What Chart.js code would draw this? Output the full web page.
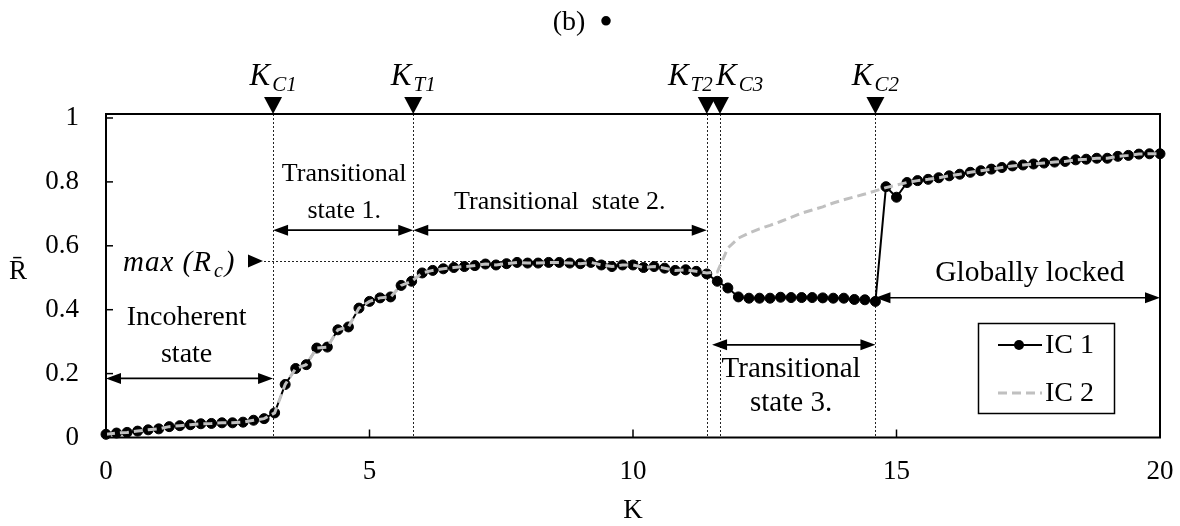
<!DOCTYPE html>
<html>
<head>
<meta charset="utf-8">
<script src="https://cdn.jsdelivr.net/npm/chart.js@4.4.0/dist/chart.umd.min.js"></script>
<style>
  html, body { margin: 0; padding: 0; background: #fff; }
  #wrap { width: 1180px; height: 526px; position: relative; }
</style>
</head>
<body>
<div id="wrap"><canvas id="c" width="1180" height="526"></canvas></div>
<script>
// Coupling strength K (x values)
const K = [
  0.0, 0.2, 0.4, 0.6, 0.8, 1.0, 1.2, 1.4, 1.6, 1.8,
  2.0, 2.2, 2.4, 2.6, 2.8, 3.0, 3.2, 3.4, 3.6, 3.8,
  4.0, 4.2, 4.4, 4.6, 4.8, 5.0, 5.2, 5.4, 5.6, 5.8,
  6.0, 6.2, 6.4, 6.6, 6.8, 7.0, 7.2, 7.4, 7.6, 7.8,
  8.0, 8.2, 8.4, 8.6, 8.8, 9.0, 9.2, 9.4, 9.6, 9.8,
  10.0, 10.2, 10.4, 10.6, 10.8, 11.0, 11.2, 11.4, 11.6, 11.8,
  12.0, 12.2, 12.4, 12.6, 12.8, 13.0, 13.2, 13.4, 13.6, 13.8,
  14.0, 14.2, 14.4, 14.6, 14.8, 15.0, 15.2, 15.4, 15.6, 15.8,
  16.0, 16.2, 16.4, 16.6, 16.8, 17.0, 17.2, 17.4, 17.6, 17.8,
  18.0, 18.2, 18.4, 18.6, 18.8, 19.0, 19.2, 19.4, 19.6, 19.8,
  20.0
];

// Mean order parameter, initial condition 1
const R_IC1 = [
  0.010, 0.014, 0.016, 0.020, 0.024, 0.027, 0.034, 0.037, 0.040, 0.043,
  0.044, 0.046, 0.046, 0.048, 0.054, 0.059, 0.077, 0.166, 0.216, 0.228,
  0.280, 0.283, 0.337, 0.346, 0.405, 0.426, 0.437, 0.440, 0.476, 0.489,
  0.515, 0.523, 0.528, 0.532, 0.535, 0.538, 0.543, 0.540, 0.544, 0.548,
  0.546, 0.546, 0.548, 0.548, 0.546, 0.544, 0.548, 0.540, 0.535, 0.540,
  0.540, 0.532, 0.535, 0.530, 0.523, 0.525, 0.520, 0.512, 0.489, 0.468,
  0.440, 0.436, 0.436, 0.436, 0.439, 0.438, 0.438, 0.438, 0.437, 0.436,
  0.436, 0.432, 0.431, 0.426, 0.785, 0.752, 0.798, 0.804, 0.808, 0.813,
  0.819, 0.824, 0.830, 0.835, 0.840, 0.845, 0.850, 0.853, 0.856, 0.859,
  0.862, 0.864, 0.869, 0.871, 0.874, 0.874, 0.880, 0.883, 0.887, 0.888,
  0.888
];

// Mean order parameter, initial condition 2
const R_IC2 = [
  0.010, 0.014, 0.016, 0.020, 0.024, 0.027, 0.034, 0.037, 0.040, 0.043,
  0.044, 0.046, 0.046, 0.048, 0.054, 0.059, 0.077, 0.166, 0.216, 0.228,
  0.280, 0.283, 0.337, 0.346, 0.405, 0.426, 0.437, 0.440, 0.476, 0.489,
  0.515, 0.523, 0.528, 0.532, 0.535, 0.538, 0.543, 0.540, 0.544, 0.548,
  0.546, 0.546, 0.548, 0.548, 0.546, 0.544, 0.548, 0.540, 0.535, 0.540,
  0.540, 0.532, 0.535, 0.530, 0.523, 0.525, 0.520, 0.515, 0.518, 0.593,
  0.624, 0.640, 0.653, 0.664, 0.676, 0.689, 0.702, 0.712, 0.722, 0.734,
  0.744, 0.753, 0.762, 0.772, 0.782, 0.790, 0.798, 0.804, 0.808, 0.813,
  0.819, 0.824, 0.830, 0.835, 0.840, 0.845, 0.850, 0.853, 0.856, 0.859,
  0.862, 0.864, 0.869, 0.871, 0.874, 0.874, 0.880, 0.883, 0.887, 0.888,
  0.888
];

const xTicks = [0, 5, 10, 15, 20];
const yTicks = [0, 0.2, 0.4, 0.6, 0.8, 1];

// Critical / transition coupling values marked along the top
const markerNames = ['C1', 'T1', 'T2', 'C3', 'C2'];
const markerK = [3.17, 5.83, 11.4, 11.65, 14.6];
const maxRc = 0.5525;

const SERIF = '"Liberation Serif", "Times New Roman", serif';

function line(ctx, x1, y1, x2, y2) {
  ctx.beginPath(); ctx.moveTo(x1, y1); ctx.lineTo(x2, y2); ctx.stroke();
}

function tri(ctx, pts) {
  ctx.beginPath(); ctx.moveTo(pts[0], pts[1]); ctx.lineTo(pts[2], pts[3]); ctx.lineTo(pts[4], pts[5]);
  ctx.closePath(); ctx.fill();
}

// Double-headed arrow between two x pixels at height y
function dblArrow(ctx, x1, x2, y) {
  const L = 15, H = 5.5;
  ctx.lineWidth = 1.6;
  line(ctx, x1 + L - 2, y, x2 - L + 2, y);
  tri(ctx, [x1, y, x1 + L, y - H, x1 + L, y + H]);
  tri(ctx, [x2, y, x2 - L, y - H, x2 - L, y + H]);
}

// Italic symbol with a lowered subscript
function subText(ctx, main, sub, x, y, align, size, subSize, drop) {
  ctx.font = 'italic ' + size + 'px ' + SERIF;
  const wm = ctx.measureText(main).width;
  ctx.font = 'italic ' + subSize + 'px ' + SERIF;
  const ws = ctx.measureText(sub).width;
  const tot = wm + ws + 2;
  let sx = align === 'center' ? x - tot / 2 : align === 'right' ? x - tot : x;
  ctx.textAlign = 'left'; ctx.textBaseline = 'alphabetic';
  ctx.font = 'italic ' + size + 'px ' + SERIF;
  ctx.fillText(main, sx, y);
  ctx.font = 'italic ' + subSize + 'px ' + SERIF;
  ctx.fillText(sub, sx + wm + 2, y + drop);
  return sx + tot + 1;
}

const decor = {
  id: 'decor',
  beforeDatasetsDraw(chart) {
    const { ctx, chartArea: a, scales: { x, y } } = chart;
    ctx.save();
    ctx.strokeStyle = '#222';
    ctx.lineWidth = 1;
    ctx.setLineDash([2, 2]);
    markerK.forEach(k => {
      const px = Math.round(x.getPixelForValue(k)) + 0.5;
      line(ctx, px, a.top, px, a.bottom);
    });
    const py = Math.round(y.getPixelForValue(maxRc)) + 0.5;
    line(ctx, 264, py, x.getPixelForValue(markerK[2]), py);
    ctx.restore();
  },
  afterDraw(chart) {
    const { ctx, chartArea: a, scales: { x, y } } = chart;
    ctx.save();
    ctx.fillStyle = '#000';
    ctx.strokeStyle = '#000';

    // plot frame
    ctx.lineWidth = 2;
    ctx.strokeRect(a.left, a.top, a.right - a.left, a.bottom - a.top);

    // inward tick marks
    ctx.lineWidth = 1.5;
    yTicks.forEach(v => {
      if (v === 0) return;
      const py = y.getPixelForValue(v);
      line(ctx, a.left, py, a.left + 7, py);
    });
    xTicks.forEach(v => {
      if (v === 0 || v === 20) return;
      const px = x.getPixelForValue(v);
      line(ctx, px, a.bottom, px, a.bottom - 8);
    });

    // title
    ctx.textAlign = 'center'; ctx.textBaseline = 'middle';
    ctx.font = '28px ' + SERIF;
    ctx.fillText('(b)', 569, 23);
    ctx.font = '40px ' + SERIF;
    ctx.fillText('\u2022', 606, 24);

    // y-axis symbol
    ctx.font = '27px ' + SERIF;
    ctx.fillText('R\u0304', 18, 272);

    // markers along the top edge
    const aligns = ['center', 'center', 'right', 'left', 'center'];
    const shifts = [0, 0, 6, -4, 0];
    markerK.forEach((k, i) => {
      const px = x.getPixelForValue(k);
      tri(ctx, [px, a.top, px - 9, a.top - 17, px + 9, a.top - 17]);
      subText(ctx, 'K', markerNames[i], px + shifts[i], 85, aligns[i], 31, 21, 6);
    });

    // max(R_c) marker
    const py = y.getPixelForValue(maxRc);
    ctx.letterSpacing = '1px';
    let ex = subText(ctx, 'max (R', 'c', 123, 271, 'left', 29, 20, 6);
    ctx.font = 'italic 29px ' + SERIF;
    ctx.fillText(')', ex, 271);
    ctx.letterSpacing = '0px';
    tri(ctx, [263, py, 248, py - 6.5, 248, py + 6.5]);

    // region arrows
    const arrows = [
      [0, markerK[0], 0.185],
      [markerK[0], markerK[1], 0.649],
      [markerK[1], markerK[2], 0.649],
      [11.5, markerK[4], 0.29],
      [markerK[4], 20, 0.4375]
    ];
    arrows.forEach(([k1, k2, r]) => {
      dblArrow(ctx, x.getPixelForValue(k1), x.getPixelForValue(k2), y.getPixelForValue(r));
    });

    // region labels
    const labels = [
      [1.53, ['Incoherent', 'state'], [0.374, 0.258], 28],
      [4.52, ['Transitional', 'state 1.'], [0.825, 0.707], 26],
      [8.61, ['Transitional  state 2.'], [0.738], 26],
      [13.0, ['Transitional', 'state 3.'], [0.214, 0.108], 29],
      [17.53, ['Globally locked'], [0.515], 29.5]
    ];
    ctx.textAlign = 'center'; ctx.textBaseline = 'middle';
    labels.forEach(([k, lines, rs, fs]) => {
      ctx.font = fs + 'px ' + SERIF;
      lines.forEach((t, j) => ctx.fillText(t, x.getPixelForValue(k), y.getPixelForValue(rs[j])));
    });

    // legend
    ctx.fillStyle = '#fff';
    ctx.fillRect(978, 323, 137, 91);
    ctx.lineWidth = 1.5;
    ctx.strokeStyle = '#000';
    ctx.strokeRect(978.5, 323.5, 136, 90);
    ctx.lineWidth = 2;
    line(ctx, 998, 345, 1042, 345);
    ctx.fillStyle = '#000';
    ctx.beginPath(); ctx.arc(1019, 345, 5, 0, Math.PI * 2); ctx.fill();
    ctx.strokeStyle = '#c0c0c0'; ctx.lineWidth = 3; ctx.setLineDash([9, 5]);
    line(ctx, 998, 393, 1042, 393);
    ctx.setLineDash([]);
    ctx.fillStyle = '#000';
    ctx.font = '28px ' + SERIF;
    ctx.textAlign = 'left'; ctx.textBaseline = 'middle';
    ctx.fillText('IC 1', 1045, 346);
    ctx.fillText('IC 2', 1045, 394);
    ctx.restore();
  }
};

new Chart(document.getElementById('c'), {
  type: 'line',
  data: {
    datasets: [
      {
        label: 'IC 1',
        data: K.map((k, i) => ({ x: k, y: R_IC1[i] })),
        borderColor: '#000',
        backgroundColor: '#000',
        borderWidth: 2,
        pointRadius: 5,
        pointBackgroundColor: '#000',
        pointBorderColor: '#000',
        pointBorderWidth: 1,
        tension: 0,
        clip: false,
        order: 1
      },
      {
        label: 'IC 2',
        data: K.map((k, i) => ({ x: k, y: R_IC2[i] })),
        borderColor: '#c0c0c0',
        borderWidth: 3,
        borderDash: [9, 5],
        pointRadius: 0,
        tension: 0,
        clip: false,
        order: 0
      }
    ]
  },
  options: {
    responsive: false,
    animation: false,
    events: [],
    layout: { padding: { top: 114, right: 20, left: 0, bottom: 0 } },
    plugins: { legend: { display: false }, tooltip: { enabled: false } },
    scales: {
      x: {
        type: 'linear', min: 0, max: 20,
        afterBuildTicks: s => { s.ticks = xTicks.map(v => ({ value: v })); },
        afterFit: s => { s.height = 88.5; s.paddingLeft = 0; s.paddingRight = 0; },
        grid: { display: false, drawTicks: false },
        border: { display: false },
        ticks: { color: '#000', font: { family: SERIF, size: 27 }, padding: 18, maxRotation: 0, autoSkip: false },
        title: { display: true, text: 'K', color: '#000', font: { family: SERIF, size: 27, lineHeight: 1.1 }, padding: 0 }
      },
      y: {
        type: 'linear', min: 0, max: 1.0125,
        afterBuildTicks: s => { s.ticks = yTicks.map(v => ({ value: v })); },
        afterFit: s => { s.width = 106; },
        grid: { display: false, drawTicks: false },
        border: { display: false },
        ticks: { color: '#000', font: { family: SERIF, size: 27 }, padding: 27, callback: v => String(+v.toFixed(1)) }
      }
    }
  },
  plugins: [decor]
});
</script>
</body>
</html>
